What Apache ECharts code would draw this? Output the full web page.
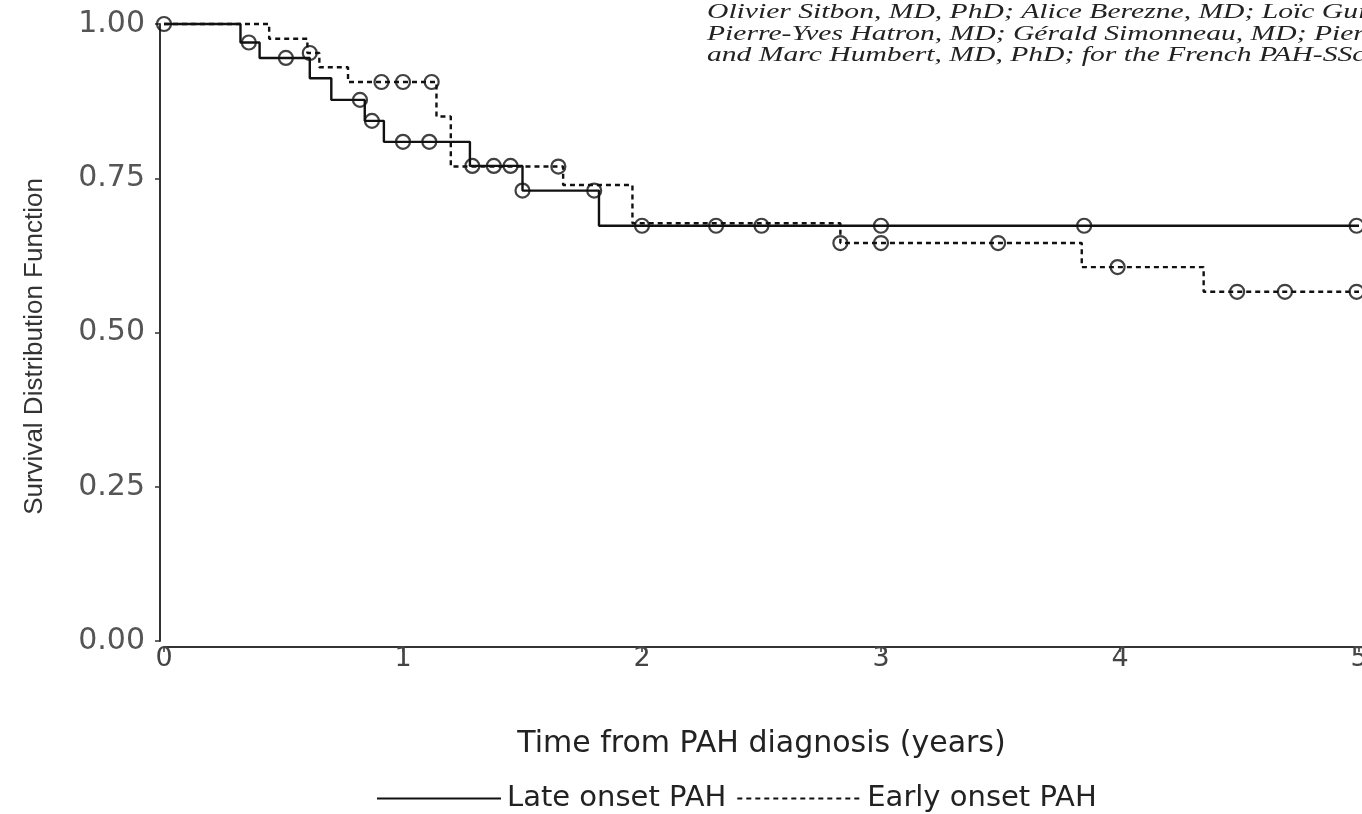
<!DOCTYPE html>
<html>
<head>
<meta charset="utf-8">
<script src="https://cdn.jsdelivr.net/npm/echarts@6/dist/echarts.min.js"></script>
<style>
  html, body { margin: 0; padding: 0; background: #fff; }
  #chart { width: 1362px; height: 814px; }
</style>
</head>
<body>
<div id="chart"></div>
<script>
// Kaplan–Meier survival estimates by age at PAH onset
var xTicks = [0, 1, 2, 3, 4, 5];
var yTicks = [0, 0.25, 0.5, 0.75, 1];

// Late onset PAH: step change times (years) and survival after each step
var lateTimes = [0, 0.32, 0.40, 0.61, 0.70, 0.84, 0.92, 1.28, 1.50, 1.82, 5.0];
var lateSurv  = [1.0, 0.970, 0.945, 0.912, 0.877, 0.843, 0.809, 0.770, 0.730, 0.673, 0.673];
// Late onset PAH: censored observations
var lateCensTimes = [0, 0.355, 0.51, 0.82, 0.87, 1.0, 1.11, 1.29, 1.38, 1.45, 1.50, 1.80, 2.0, 2.31, 2.50, 3.0, 3.85, 4.99];
var lateCensSurv  = [1.0, 0.970, 0.945, 0.877, 0.843, 0.809, 0.809, 0.770, 0.770, 0.770, 0.730, 0.730, 0.673, 0.673, 0.673, 0.673, 0.673, 0.673];

// Early onset PAH
var earlyTimes = [0, 0.44, 0.60, 0.65, 0.77, 1.14, 1.20, 1.67, 1.96, 2.83, 3.84, 4.35, 5.0];
var earlySurv  = [1.0, 0.976, 0.953, 0.930, 0.906, 0.850, 0.769, 0.739, 0.677, 0.645, 0.606, 0.566, 0.566];
var earlyCensTimes = [0.61, 0.91, 1.0, 1.12, 1.65, 2.83, 3.0, 3.49, 3.99, 4.49, 4.69, 4.99];
var earlyCensSurv  = [0.953, 0.906, 0.906, 0.906, 0.769, 0.645, 0.645, 0.645, 0.606, 0.566, 0.566, 0.566];

var seriesNames = ['Late onset PAH', 'Early onset PAH'];

function pairs(xs, ys) { return xs.map(function (x, i) { return [x, ys[i]]; }); }

var ink = '#111';
var wide = '"DejaVu Sans", Verdana, sans-serif';
var sans = '"Liberation Sans", Arial, Helvetica, sans-serif';

var chart = echarts.init(document.getElementById('chart'), null, { renderer: 'canvas' });

chart.setOption({
  backgroundColor: '#fff',
  animation: false,
  grid: { left: 164, right: 3, top: 24, bottom: 173, containLabel: false, outerBoundsMode: 'none' },
  graphic: [
    {
      type: 'text', x: 707, y: 2, scaleX: 1.41, originX: 0,
      style: {
        text: 'Olivier Sitbon, MD, PhD; Alice Berezne, MD; Loïc Guillevin, MD, PhD;\nPierre-Yves Hatron, MD; Gérald Simonneau, MD; Pierre Clerson, MD;\nand Marc Humbert, MD, PhD; for the French PAH-SSc Network',
        font: 'italic 21px "Liberation Serif", "DejaVu Serif", serif',
        fill: '#222', lineHeight: 21.5
      }
    }
  ],
  xAxis: {
    type: 'value', min: 0, max: 5, interval: 1, offset: 6,
    name: 'Time from PAH diagnosis (years)', nameLocation: 'middle', nameGap: 82,
    nameTextStyle: { fontFamily: wide, fontSize: 30, color: '#222' },
    axisLine: { show: true, onZero: false, lineStyle: { color: '#333', width: 2 } },
    axisTick: { show: true, length: 5, lineStyle: { color: '#333', width: 1.5 } },
    axisLabel: { fontFamily: wide, fontSize: 27, color: '#444', margin: -2 },
    splitLine: { show: false }
  },
  yAxis: {
    type: 'value', min: 0, max: 1, interval: 0.25, offset: 4,
    name: 'Survival Distribution Function', nameLocation: 'middle', nameGap: 112,
    nameTextStyle: { fontFamily: sans, fontSize: 26, color: '#333', padding: [0, 28, 0, 0] },
    axisLine: { show: true, onZero: false, lineStyle: { color: '#333', width: 2 } },
    axisTick: { show: true, length: 5, lineStyle: { color: '#333', width: 1.5 } },
    axisLabel: {
      fontFamily: wide, fontSize: 30, color: '#555', margin: 15,
      formatter: function (v) { return v.toFixed(2); }
    },
    splitLine: { show: false }
  },
  legend: {
    top: 779, left: 371,
    itemWidth: 124, itemHeight: 2, itemGap: 10,
    itemStyle: { opacity: 0 },
    textStyle: { fontFamily: wide, fontSize: 29, color: '#222', padding: [0, 0, 0, 1] },
    data: seriesNames
  },
  series: [
    {
      name: seriesNames[0], type: 'line', step: 'end',
      data: pairs(lateTimes, lateSurv),
      symbol: 'none', clip: false,
      lineStyle: { color: ink, width: 2.4, type: 'solid' },
      itemStyle: { color: ink }, z: 3
    },
    {
      name: seriesNames[1], type: 'line', step: 'end',
      data: pairs(earlyTimes, earlySurv),
      symbol: 'none', clip: false,
      lineStyle: { color: ink, width: 2.4, type: [5, 4] },
      itemStyle: { color: ink }, z: 3
    },
    {
      name: 'Late censored', type: 'scatter',
      data: pairs(lateCensTimes, lateCensSurv),
      symbol: 'circle', symbolSize: 14,
      itemStyle: { color: 'rgba(255,255,255,0)', borderColor: ink, borderWidth: 2.2 },
      z: 4
    },
    {
      name: 'Early censored', type: 'scatter',
      data: pairs(earlyCensTimes, earlyCensSurv),
      symbol: 'circle', symbolSize: 14,
      itemStyle: { color: 'rgba(255,255,255,0)', borderColor: ink, borderWidth: 2.2 },
      z: 4
    }
  ]
});
</script>
</body>
</html>
